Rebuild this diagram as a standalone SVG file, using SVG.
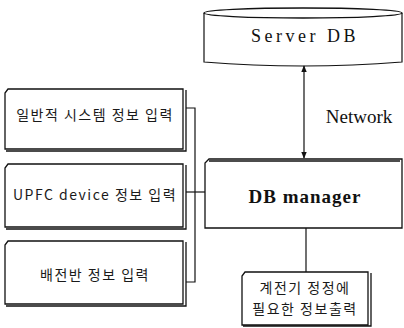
<svg xmlns="http://www.w3.org/2000/svg" width="404" height="328" viewBox="0 0 404 328">
<style>
.box{fill:#fff;stroke:#111;stroke-width:1.3}
.sh{fill:none;stroke:#111;stroke-width:1.3}
.ln{fill:none;stroke:#111;stroke-width:1.2}
.kt{font-family:"Noto Sans CJK KR","Noto Sans",sans-serif;font-size:14px;fill:#1a1a1a;text-anchor:middle;letter-spacing:1.5px}
.st{font-family:"Liberation Serif",serif;fill:#111;text-anchor:middle}
</style>
<defs>
<marker id="ah" viewBox="0 0 10 10" refX="9" refY="5" markerWidth="6" markerHeight="6" orient="auto-start-reverse">
<path d="M0,1 L10,5 L0,9 z" fill="#111"/>
</marker>
</defs>
<g id="server-db">
<path d="M204,13 L204,62 Q303,70 402,62 L402,13" fill="#fff" stroke="#111" stroke-width="1.2"/>
<ellipse cx="303" cy="13" rx="99" ry="5" fill="#fff" stroke="#111" stroke-width="1.3"/>
<text class="st" x="305" y="42" font-size="18" fill="#777" letter-spacing="3.5">Server DB</text>
</g>
<g id="input1">
<path class="box" d="M8,89 L183,89 L183,149 L5,149 L5,93 Z"/>
<path class="sh" d="M186,90 L186,151 L6,151"/>
<text class="kt" x="95" y="120">일반적 시스템 정보 입력</text>
</g>
<g id="input2">
<path class="box" d="M8,164 L183,164 L183,227 L5,227 L5,168 Z"/>
<path class="sh" d="M186,165 L186,229 L6,229"/>
<text class="kt" x="95" y="200" letter-spacing="1">UPFC device 정보 입력</text>
</g>
<g id="input3">
<path class="box" d="M8,241 L183,241 L183,304 L5,304 L5,245 Z"/>
<path class="sh" d="M186,242 L186,306 L6,306"/>
<text class="kt" x="95" y="280">배전반 정보 입력</text>
</g>
<g id="db-manager">
<path class="box" d="M209,159 L402,159 L402,228 L205,228 L205,163 Z"/>
<path class="sh" d="M209,161 L400,161"/>
<text class="st" x="305" y="203" font-size="19" font-weight="bold" letter-spacing="1">DB manager</text>
</g>
<g id="output">
<path class="box" d="M245,272 L368,272 L368,325 L242,325 L242,276 Z"/>
<path class="sh" d="M371,273 L371,326 L243,326"/>
<text class="kt" x="305" y="293" letter-spacing="1">계전기 정정에</text>
<text class="kt" x="305" y="314" letter-spacing="1">필요한 정보출력</text>
</g>
<g id="connectors">
<line class="ln" x1="304" y1="66" x2="304" y2="158" marker-start="url(#ah)" marker-end="url(#ah)"/>
<text class="st" x="359" y="123" font-size="19">Network</text>
<path class="ln" d="M186,108 L195,108 L195,282 L186,282"/>
<line class="ln" x1="186" y1="192" x2="205" y2="192"/>
<line class="ln" x1="306" y1="228" x2="306" y2="272"/>
</g>
</svg>
